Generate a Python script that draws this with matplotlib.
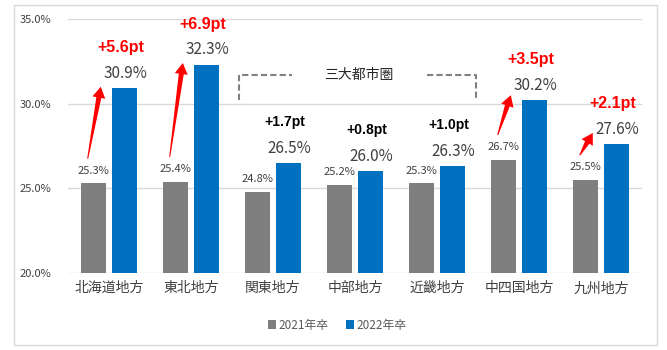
import matplotlib
matplotlib.use("Agg")
import matplotlib.pyplot as plt
from matplotlib.patches import Rectangle, Polygon
import numpy as np

plt.rcParams['font.family'] = ['Noto Sans CJK JP', 'DejaVu Sans']

categories = ["北海道地方", "東北地方", "関東地方", "中部地方", "近畿地方", "中四国地方", "九州地方"]
v2021 = [25.3, 25.4, 24.8, 25.2, 25.3, 26.7, 25.5]
v2022 = [30.9, 32.3, 26.5, 26.0, 26.3, 30.2, 27.6]
changes = ["+5.6pt", "+6.9pt", "+1.7pt", "+0.8pt", "+1.0pt", "+3.5pt", "+2.1pt"]
highlight = [True, True, False, False, False, True, True]
yticks = [20.0, 25.0, 30.0, 35.0]
series_names = ["2021年卒", "2022年卒"]
metro_label = "三大都市圏"

GRAY = "#7f7f7f"
BLUE = "#0070c0"
RED = "#ff0000"

fig = plt.figure(figsize=(6.67, 3.5), dpi=100)
fig.patches.append(Rectangle((14/667, 1-345/350), (657-14)/667, (345-5)/350,
                             transform=fig.transFigure, fill=False,
                             edgecolor="#d9d9d9", linewidth=1.0))
ax = fig.add_axes([68/667, 1-273/350, (642-68)/667, (273-19)/350])

x = np.arange(len(categories))
w = 0.305
off = 0.195
ax.bar(x - off, [v - 20 for v in v2021], bottom=20, width=w, color=GRAY, label=series_names[0], zorder=3)
ax.bar(x + off, [v - 20 for v in v2022], bottom=20, width=w, color=BLUE, label=series_names[1], zorder=3)

ax.set_ylim(20, 35)
ax.set_xlim(-0.5, len(categories) - 0.5)
ax.set_yticks(yticks)
ax.set_yticklabels([f"{t:.1f}%" for t in yticks], fontsize=8, color="#404040")
ax.set_xticks(x)
ax.set_xticklabels(categories, fontsize=10, color="#404040")
ax.tick_params(axis='both', length=0)
ax.tick_params(axis='x', pad=6)
ax.tick_params(axis='y', pad=12)
for s in ax.spines.values():
    s.set_visible(False)
ax.yaxis.grid(True, color="#d9d9d9", linewidth=1.0, zorder=0)
ax.set_axisbelow(True)


def tapered_arrow(p0, p1, head_len=11, head_w=13, tail_w=5, tip_w=1.0):
    """Draw a red arrow that widens from the tail to the head, in pixel space."""
    a = ax.transData.transform(p0)
    b = ax.transData.transform(p1)
    d = b - a
    L = np.hypot(*d)
    u = d / L
    n = np.array([-u[1], u[0]])
    base = b - u * head_len
    pts = [a + n * tip_w / 2, base + n * tail_w / 2, base + n * head_w / 2, b,
           base - n * head_w / 2, base - n * tail_w / 2, a - n * tip_w / 2]
    inv = ax.transData.inverted()
    poly = Polygon(inv.transform(np.array(pts)), closed=True, facecolor=RED,
                   edgecolor='none', zorder=5)
    ax.add_patch(poly)


tip_offsets = [0.1, 0.1, 0, 0, 0, 0.3, 0.67]
for i in range(len(categories)):
    ax.text(x[i] - off, v2021[i] + 0.75, f"{v2021[i]:.1f}%", ha='center', va='center',
            fontsize=8, color="#404040")
    ax.text(x[i] + off, v2022[i] + 0.87, f"{v2022[i]:.1f}%", ha='center', va='center',
            fontsize=11, color="#404040")
    if highlight[i]:
        ax.text(x[i] + off - 0.05, v2022[i] + 2.4, changes[i], ha='center', va='center',
                fontsize=11.5, color=RED, fontweight='bold', family=['Liberation Sans', 'DejaVu Sans'])
        tapered_arrow((x[i] - 0.26, v2021[i] + 1.45), (x[i] - 0.1, v2022[i] + tip_offsets[i]))
    else:
        ax.text(x[i] + off - 0.05, v2022[i] + 2.42, changes[i], ha='center', va='center',
                fontsize=10, color="black", fontweight='bold', family=['Liberation Sans', 'DejaVu Sans'])

# bracket for the three metropolitan regions
lx, rx = 2 - 0.415, 4 + 0.475
yb, yt = 30.22, 31.69
mx = 3.05
dash = dict(color="#808080", linewidth=1.5, linestyle=(0, (3, 1.5)), clip_on=False, zorder=4)
ax.plot([lx, lx, 2.23], [yb, yt, yt], **dash)
ax.plot([3.88, rx, rx], [yt, yt, yb], **dash)
ax.text(mx, yt, metro_label, ha='center', va='center', fontsize=10, color="#262626")

leg = fig.legend(loc='center', bbox_to_anchor=(337/667, 1 - 325/350), ncol=2, frameon=False,
                 fontsize=8.5, handlelength=0.7, handleheight=0.7, handletextpad=0.2,
                 columnspacing=1.5, labelcolor="#595959")

fig.savefig("out.png", dpi=100)
